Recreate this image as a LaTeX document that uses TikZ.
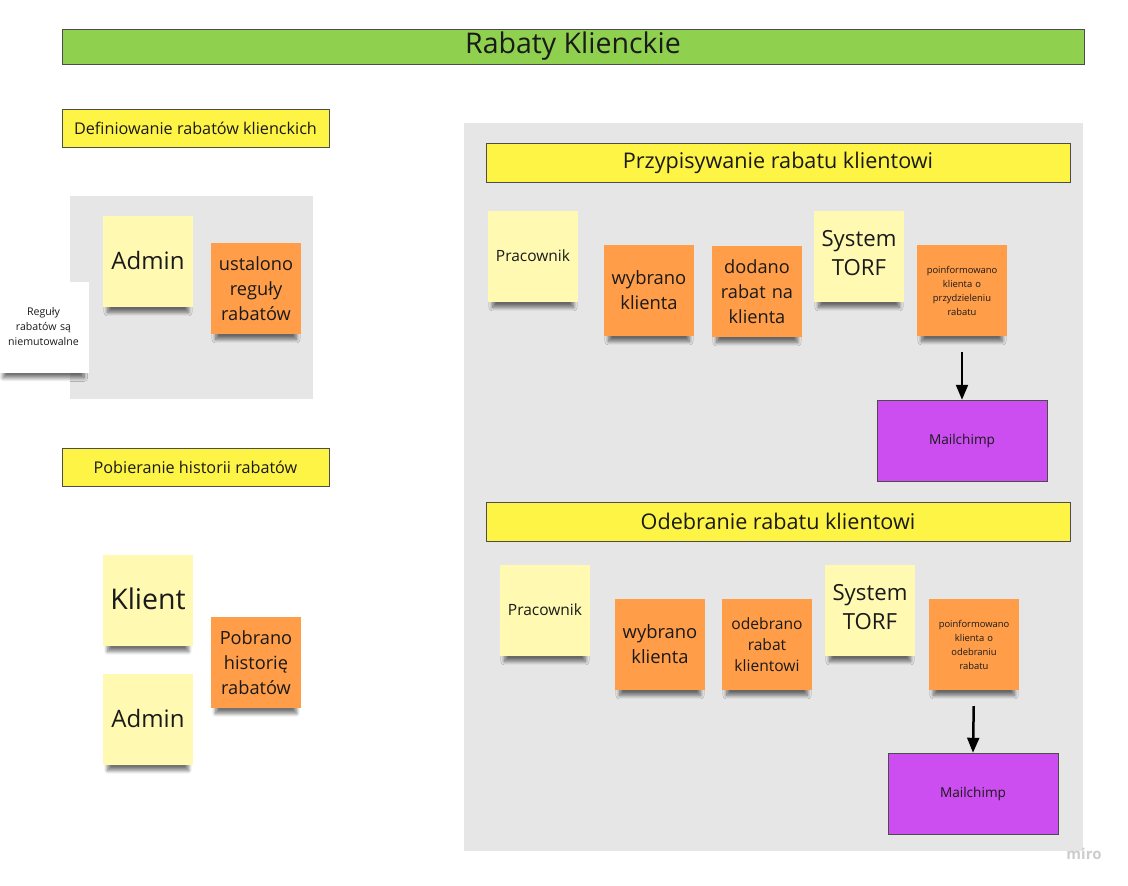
\documentclass[tikz,border=0pt]{standalone}
\usepackage{fontspec}
\setmainfont{Open Sans}
\usetikzlibrary{arrows, shadows.blur}
\definecolor{titlegreen}{HTML}{8FD14F}
\definecolor{baryellow}{HTML}{FEF445}
\definecolor{stickyyellow}{HTML}{FFF9B1}
\definecolor{stickyorange}{HTML}{FF9D48}
\definecolor{mailpurple}{HTML}{CC4EF0}
\definecolor{panelgray}{HTML}{E6E6E6}
\definecolor{inkgray}{HTML}{1A1A1A}
\tikzstyle{bar} = [rectangle, draw=black!70, fill=baryellow, line width=0.8pt,
                   minimum width=267pt, minimum height=38pt, text=inkgray,
                   inner sep=0pt, font=\fontsize{16.2}{19}\selectfont]
\tikzstyle{sticky} = [rectangle, minimum width=90pt, minimum height=91pt,
                      text width=88pt, align=center, inner sep=0pt, text=inkgray,
                      blur shadow={shadow xshift=0pt, shadow yshift=-11pt,
                                   shadow scale=0.9, shadow opacity=55,
                                   shadow blur radius=4pt, shadow blur steps=10}]
\tikzstyle{actor} = [sticky, fill=stickyyellow]
\tikzstyle{event} = [sticky, fill=stickyorange]
\tikzstyle{service} = [rectangle, draw=black!70, fill=mailpurple, line width=0.8pt,
                       minimum width=170pt, minimum height=81pt, text=inkgray,
                       font=\fontsize{13.6}{16}\selectfont]
\tikzstyle{arrow} = [line width=2.5pt, -triangle 45, shorten <=16pt]

\begin{document}
\begin{tikzpicture}[x=1pt, y=-1pt]
        \useasboundingbox (0,0) rectangle (1128,886);

        %Title
        \node at (573,46.5)(Title) [rectangle, draw=black!70, fill=titlegreen, line width=0.8pt,
            minimum width=1022pt, minimum height=35pt, text=inkgray,
            font=\fontsize{28.5}{32}\selectfont] {Rabaty Klienckie};

        %Definiowanie
        \node at (195.5,128)(DefBar) [bar] {Definiowanie rabatów klienckich};
        \fill[panelgray] (70,196) rectangle (313,399);
        \node at (148,261.5)(AdminDef) [actor, font=\fontsize{24}{28}\selectfont] {\raisebox{3pt}{Admin}};
        \node at (256,288.5)(Ustalono) [event, font=\fontsize{18.2}{25}\selectfont] {ustalono\\reguły\\rabatów};
        \node at (43.5,327)(Reguly) [sticky, fill=white, font=\fontsize{10.6}{15}\selectfont] {Reguły\\rabatów są\\niemutowalne};

        %Pobieranie historii
        \node at (195.5,467)(PobBar) [bar] {Pobieranie historii rabatów};
        \node at (148,600.5)(Klient) [actor, font=\fontsize{28.5}{32}\selectfont] {\raisebox{3pt}{Klient}};
        \node at (148,719.5)(AdminPob) [actor, font=\fontsize{24}{28}\selectfont] {\raisebox{3pt}{Admin}};
        \node at (256,662.5)(Pobrano) [event, font=\fontsize{18.2}{25}\selectfont] {Pobrano\\historię\\rabatów};

        %Panel for the rest
        \fill[panelgray] (464,123) rectangle (1083,851);

        %Przypisywanie rabatu
        \node at (778,162.5)(PrzypBar) [bar, minimum width=584pt, minimum height=39pt,
            font=\fontsize{21.6}{25}\selectfont] {Przypisywanie rabatu klientowi};
        \node at (533,256.5)(PracP) [actor, font=\fontsize{15.5}{18}\selectfont] {\raisebox{2pt}{Pracownik}};
        \node at (649,290.5)(WybP) [event, font=\fontsize{18.4}{25}\selectfont] {wybrano\\klienta};
        \node at (757,291.5)(DodP) [event, font=\fontsize{18.2}{25}\selectfont] {dodano\\rabat na\\klienta};
        \node at (859,256.5)(SysP) [actor, font=\fontsize{22.2}{29}\selectfont] {System\\TORF\par\vspace{6pt}};
        \node at (962,290.5)(PoinfP) [event, font=\fontsize{9.4}{14}\selectfont] {poinformowano\\klienta o\\przydzieleniu\\rabatu};
        \node at (962,440.5)(MailP) [service] {Mailchimp};
        \draw [arrow] (PoinfP.south) -- (MailP.north);

        %Odebranie rabatu
        \node at (778,521.5)(OdebBar) [bar, minimum width=584pt, minimum height=39pt,
            font=\fontsize{21.6}{25}\selectfont] {Odebranie rabatu klientowi};
        \node at (545,610.5)(PracO) [actor, font=\fontsize{15.5}{18}\selectfont] {\raisebox{2pt}{Pracownik}};
        \node at (660,644.5)(WybO) [event, font=\fontsize{18.4}{25}\selectfont] {wybrano\\klienta};
        \node at (767,644.5)(OdbO) [event, font=\fontsize{15.6}{21}\selectfont] {odebrano\\rabat\\klientowi};
        \node at (870,610.5)(SysO) [actor, font=\fontsize{22.2}{29}\selectfont] {System\\TORF\par\vspace{6pt}};
        \node at (974,644.5)(PoinfO) [event, font=\fontsize{9.4}{14}\selectfont] {poinformowano\\klienta o\\odebraniu\\rabatu};
        \node at (973,793.5)(MailO) [service] {Mailchimp};
        \draw [arrow] (PoinfO.south) -- (MailO.north);

        %Watermark
        \node at (1084,854)(Miro) [text=black!20, font=\fontsize{15}{17}\selectfont\bfseries] {miro};

\end{tikzpicture}
\end{document}
